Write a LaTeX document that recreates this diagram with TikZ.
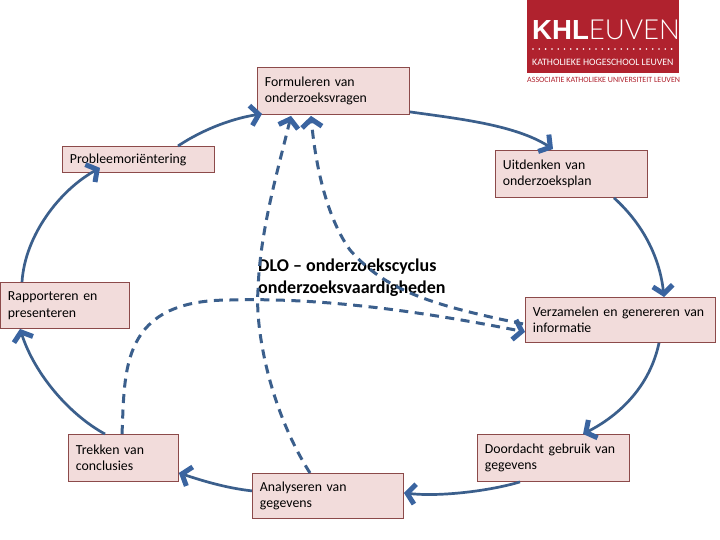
\documentclass[tikz,border=0pt]{standalone}
\usepackage{fontspec}
\setmainfont{Carlito}
\newfontfamily\logolight{Lato Light}
\newfontfamily\logobold{Liberation Sans}
\usetikzlibrary{arrows.meta,calc}
\definecolor{boxfill}{HTML}{F2DCDB}
\definecolor{boxline}{HTML}{8C4A4A}
\definecolor{flow}{HTML}{3B5F8C}
\definecolor{tipblue}{HTML}{3A64A0}
\definecolor{logored}{HTML}{B0222E}
\tikzset{
  x=1pt,y=-1pt,
  box/.style={draw=boxline,fill=boxfill,line width=0.9pt,anchor=north west,align=left,inner sep=0pt,font=\fontsize{13.8}{16.5}\selectfont},
  chev/.tip={Straight Barb[length=8pt,width=20pt,line width=5pt,color=tipblue]},
  cycle/.style={draw=flow,line width=2.7pt,-chev},
  dashflow/.style={draw=flow,line width=3pt,dash pattern=on 9pt off 6.5pt,-chev},
  loose/.style={anchor=north west,align=left,inner sep=0pt},
}
\newcommand{\boxnode}[7]{\node[box,minimum width=#4pt,minimum height=#5pt,text width=#6pt] (#1) at (#2,#3) {#7\par\vspace{3pt}};}
\begin{document}
\begin{tikzpicture}
\useasboundingbox (0,0) rectangle (720,540);
\fill[white] (0,0) rectangle (720,540);
% logo
\node[fill=logored,minimum width=152pt,minimum height=73pt,inner sep=0pt,anchor=north west] (logo) at (527,0) {};
\node[text=white,inner sep=0pt,anchor=west,font=\fontsize{27.6}{28}\selectfont] (logotext) at (532,30) {{\logobold\bfseries KHL}{\logolight EUVEN}};
\foreach \i in {0,...,22} \fill[white] (533+6.3*\i,49) circle (0.9);
\node[text=white,inner sep=0pt,anchor=west,font=\fontsize{9.8}{10}\selectfont] (logosub) at (532,62) {KATHOLIEKE HOGESCHOOL LEUVEN};
\node[text=logored,inner sep=0pt,anchor=west,font=\fontsize{8}{8}\selectfont] (logoassoc) at (527,80) {ASSOCIATIE KATHOLIEKE UNIVERSITEIT LEUVEN};
% boxes
\boxnode{form}{257}{67}{152}{47}{137}{Formuleren van\\onderzoeksvragen}
\boxnode{prob}{62}{146}{152}{26}{137}{Probleemoriëntering}
\boxnode{uitd}{495}{150}{152}{47}{137}{Uitdenken van\\onderzoeksplan}
\boxnode{rapp}{0}{282}{129}{46}{114}{Rapporteren en\\presenteren}
\boxnode{verz}{525}{297}{190}{45}{175}{Verzamelen en genereren van\\informatie}
\boxnode{door}{477}{434}{152}{47}{137}{Doordacht gebruik van\\gegevens}
\boxnode{anal}{252}{473}{151}{45}{136}{Analyseren van\\gegevens}
\boxnode{trek}{68}{434}{110}{47}{95}{Trekken van\\conclusies}
\node[loose,font=\fontsize{18}{22}\selectfont\bfseries] (dlo) at (258,259) {DLO – onderzoekscyclus\\onderzoeksvaardigheden};
% cycle arrows
\draw[cycle] ($(prob.north west)+(116,0)$) .. controls +(27,-18) and (235,118) .. ($(form.south west)+(5,-1)$);
\draw[cycle] ($(form.south east)+(0,-3)$) .. controls +(50,7) and (515,125) .. ($(uitd.north west)+(58,-1)$);
\draw[cycle] ($(uitd.south west)+(119,0)$) .. controls +(31,28) and (660,260) .. ($(verz.north west)+(139,0)$);
\draw[cycle] ($(verz.south west)+(134,0)$) .. controls +(-9,43) and (620,415) .. ($(door.north west)+(106,0)$);
\draw[cycle] ($(door.south west)+(43,0)$) .. controls +(-30,9) and (440,497) .. ($(anal.south east)+(0,-26)$);
\draw[cycle] ($(anal.south west)+(0,-28)$) .. controls +(-27,-3) and (200,480) .. ($(trek.south east)+(0,-9)$);
\draw[cycle] ($(trek.north west)+(37,0)$) .. controls +(-35,-19) and (35,375) .. ($(rapp.south west)+(20,0)$);
\draw[cycle] ($(rapp.north west)+(22,0)$) .. controls +(3,-47) and (60,190) .. ($(prob.south west)+(38,-5)$);
% dashed arrows
\draw[dashflow] ($(anal.north west)+(58,0)$) .. controls (270,410) and (255,330) .. (258,290) .. controls (260,230) and (278,170) .. ($(form.south west)+(34,1)$);
\draw[dashflow] ($(trek.north west)+(54,0)$) .. controls (125,370) and (120,300) .. (230,300) .. controls (330,297) and (440,315) .. ($(verz.south west)+(0,-11)$);
\draw[dashflow] ($(verz.south west)+(-2,-19)$) .. controls (430,305) and (385,290) .. (350,250) .. controls (325,215) and (315,160) .. ($(form.south west)+(54,1)$);
\end{tikzpicture}
\end{document}
